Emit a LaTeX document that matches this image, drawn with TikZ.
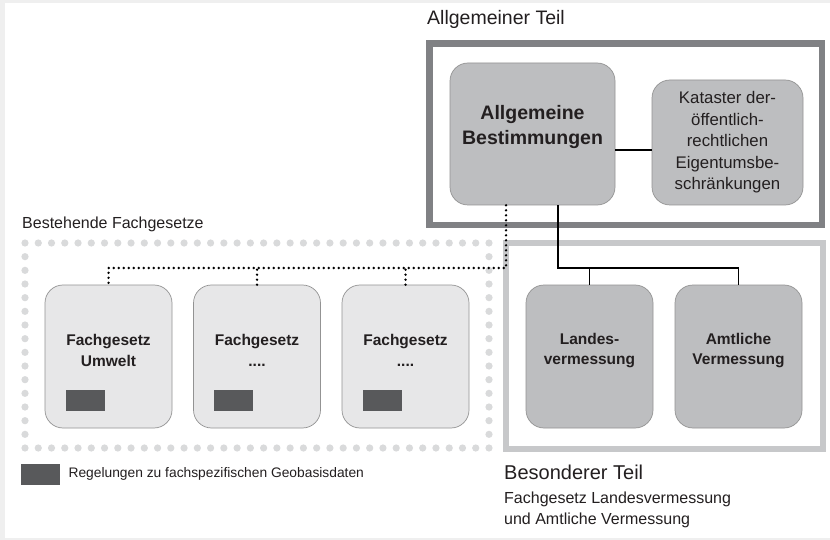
\documentclass[tikz,border=0pt]{standalone}
\usepackage{fontspec}
\setmainfont{Liberation Sans}
\usepackage{tikz}

\definecolor{bggray}{HTML}{EFEFEF}
\definecolor{framedark}{HTML}{808184}
\definecolor{framelight}{HTML}{C7C8CA}
\definecolor{boxdark}{HTML}{BDBEC0}
\definecolor{boxlight}{HTML}{E7E7E8}
\definecolor{geofill}{HTML}{58595B}
\definecolor{dotgray}{HTML}{D9DADB}
\definecolor{txt}{HTML}{231F20}

\newcommand{\fgmore}{....}

\begin{document}
\begin{tikzpicture}[x=1pt, y=-1pt, every node/.style={text=txt},
    lawbox/.style={draw=gray!85, line width=0.7pt, rounded corners=18pt,
                   minimum width=127pt, minimum height=143pt},
    darkbox/.style={lawbox, fill=boxdark},
    lightbox/.style={lawbox, fill=boxlight},
    boxtext/.style={align=center, font=\fontsize{15.5}{20.5}\selectfont\bfseries},
    geobox/.style={fill=geofill, minimum width=39pt, minimum height=21pt, inner sep=0pt, anchor=south west},
    link/.style={draw=black, line width=1.4pt},
    dotlink/.style={draw=black, line width=2.7pt, line cap=round, dash pattern=on 0pt off 5pt},
    caption/.style={anchor=west, inner sep=0pt}]

    % background
    \fill[bggray] (0,0) rectangle (830,540);
    \fill[white] (5,3) rectangle (830,538);

    % frames
    \draw[framedark, line width=6.5pt] (429.5,43.5) rectangle (822,225);
    \draw[framelight, line width=6pt] (505.5,243) rectangle (823,448.5);
    \foreach \i in {0,...,35} {
            \fill[dotgray] ({25+\i*13.257},243) circle (3.6pt);
            \fill[dotgray] ({25+\i*13.257},448) circle (3.6pt);
        }
    \foreach \j in {1,...,14} {
            \fill[dotgray] (25,{243+\j*13.667}) circle (3.6pt);
            \fill[dotgray] (489,{243+\j*13.667}) circle (3.6pt);
        }

    % Allgemeiner Teil
    \node[darkbox, minimum width=165pt, minimum height=142pt] (allg) at (532.5,134) {};
    \node[boxtext, font=\fontsize{19.5}{25}\selectfont\bfseries] (allgt) at ([yshift=6.5pt]allg.center) {Allgemeine\\Bestimmungen};
    \node[darkbox, minimum width=151pt, minimum height=125pt, align=center,
          font=\fontsize{16.8}{21.5}\selectfont] (kat) at (727.5,142.5)
          {Kataster der-\\öffentlich-\\rechtlichen\\Eigentumsbe-\\schränkungen};

    % Besonderer Teil
    \node[darkbox] (landes) at (589.5,356.5) {};
    \node[boxtext] (landest) at ([yshift=6pt]landes.center) {Landes-\\vermessung};
    \node[darkbox] (amt) at (738.5,356.5) {};
    \node[boxtext] (amtt) at ([yshift=6pt]amt.center) {Amtliche\\Vermessung};

    % Bestehende Fachgesetze
    \foreach \i/\t in {1/Umwelt, 2/\fgmore, 3/\fgmore} {
            \node[lightbox] (fg\i) at ({108.5+148.5*(\i-1)},356.5) {};
            \node[boxtext] (fg\i t) at ([yshift=6pt]fg\i.center) {Fachgesetz\\\t};
            \node[geobox] (geo\i) at ([xshift=21pt, yshift=17pt]fg\i.south west) {};
        }

    % connectors
    \coordinate (sbus) at (558,268);
    \coordinate (dbus) at (506,268);
    \draw[link] ([yshift=-16pt]allg.east) -- ([yshift=-16pt]allg.east -| kat.west);
    \draw[link] (allg.south -| sbus) -- (sbus) -| (amt.north);
    \draw[link] (landes.north) -- (landes.north |- sbus);
    \draw[dotlink] (allg.south -| dbus) -- (dbus) -| (fg1.north);
    \draw[dotlink] (fg2.north) -- (fg2.north |- dbus);
    \draw[dotlink] (fg3.north) -- (fg3.north |- dbus);

    % texts
    \node[caption, font=\fontsize{19.5}{24}\selectfont] (allgcap) at (427,19) {Allgemeiner Teil};
    \node[caption, font=\fontsize{16}{20}\selectfont] (bestcap) at (22,224) {Bestehende Fachgesetze};
    \node[caption, font=\fontsize{20}{24}\selectfont] (bescap) at (504,472) {Besonderer Teil};
    \node[caption, font=\fontsize{16}{20.5}\selectfont, align=left] (besdesc) at (504,510)
        {Fachgesetz Landesvermessung\\und Amtliche Vermessung};
    \node[geobox, anchor=west] (geokey) at (21,474) {};
    \node[caption, font=\fontsize{13.8}{17}\selectfont] (geokeyt) at ([xshift=8pt]geokey.east) {Regelungen zu fachspezifischen Geobasisdaten};
\end{tikzpicture}
\end{document}
